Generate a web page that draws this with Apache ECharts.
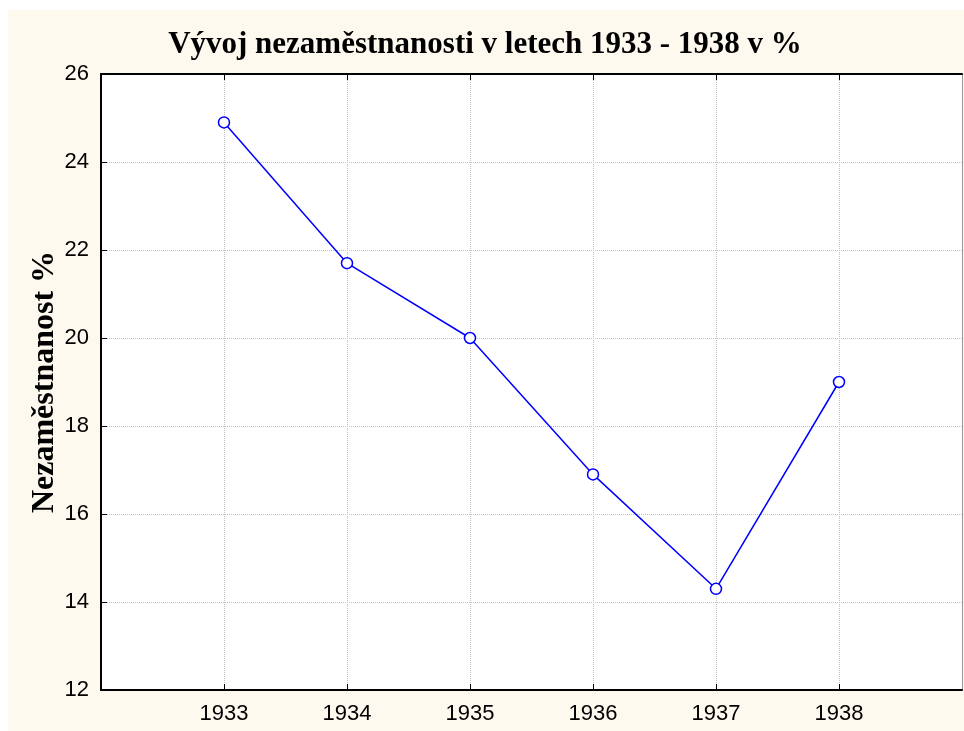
<!DOCTYPE html>
<html><head><meta charset="utf-8">
<script src="https://cdn.jsdelivr.net/npm/echarts@6/dist/echarts.min.js"></script>
<style>html,body{margin:0;padding:0;background:#fff}#c{width:964px;height:731px}</style>
</head><body><div id="c"></div>
<script>
const years = [1933, 1934, 1935, 1936, 1937, 1938];
const unemployment = [24.9, 21.7, 20.0, 16.9, 14.3, 19.0];
const titleText = 'Vývoj nezaměstnanosti v letech 1933 - 1938 v %';
const yAxisName = 'Nezaměstnanost %';

const chart = echarts.init(document.getElementById('c'), null, {renderer: 'canvas'});
chart.setOption({
  backgroundColor: '#ffffff',
  animation: false,
  graphic: [{
    type: 'rect', z: -10, silent: true,
    shape: {x: 8, y: 10, width: 960, height: 730},
    style: {fill: '#fef9ef'}
  }],
  title: {
    text: titleText, left: 480, top: 24, textAlign: 'center',
    textStyle: {fontFamily: 'Liberation Serif', fontWeight: 'bold', fontSize: 31, color: '#000'}
  },
  grid: {left: 101, top: 74, right: 2, bottom: 41, show: true, backgroundColor: '#fff', borderWidth: 0},
  xAxis: [{
    type: 'value', min: 1932, max: 1939, interval: 1,
    axisLine: {show: true, onZero: false, lineStyle: {color: '#000', width: 2}},
    axisTick: {show: true, inside: true, length: 6, lineStyle: {color: '#000'},
      customValues: years},
    axisLabel: {
      customValues: years,
      fontFamily: 'Liberation Sans', fontSize: 22, color: '#000', margin: 13,
      formatter: v => String(v)
    },
    splitLine: {show: true, lineStyle: {color: '#c0c0c0', type: [1, 1], width: 1}}
  }, {
    type: 'value', position: 'top', min: 1932, max: 1939, interval: 1,
    axisLine: {show: true, lineStyle: {color: '#000', width: 2}},
    axisTick: {show: true, inside: true, length: 6, lineStyle: {color: '#000'}, customValues: years},
    axisLabel: {show: false},
    splitLine: {show: false}
  }],
  yAxis: [{
    type: 'value', min: 12, max: 26, interval: 2,
    name: yAxisName, nameLocation: 'middle', nameGap: 40, nameRotate: 90,
    nameMoveOverlap: false,
    nameTextStyle: {fontFamily: 'Liberation Serif', fontWeight: 'bold', fontSize: 32, color: '#000'},
    axisLine: {show: true, lineStyle: {color: '#000', width: 2}},
    axisTick: {show: true, inside: true, length: 6, lineStyle: {color: '#000'}},
    axisLabel: {fontFamily: 'Liberation Sans', fontSize: 22, color: '#000', margin: 12},
    splitLine: {show: true, lineStyle: {color: '#c0c0c0', type: [1, 1], width: 1}}
  }, {
    type: 'value', position: 'right', min: 12, max: 26, interval: 2,
    axisLine: {show: true, lineStyle: {color: '#999', width: 1}},
    axisTick: {show: false}, axisLabel: {show: false}, splitLine: {show: false}
  }],
  series: [{
    type: 'line',
    data: years.map((y, i) => [y, unemployment[i]]),
    symbol: 'circle', symbolSize: 11,
    itemStyle: {color: '#fff', borderColor: '#0000ff', borderWidth: 1.5},
    lineStyle: {color: '#0000ff', width: 1.5}
  }]
});
</script></body></html>
